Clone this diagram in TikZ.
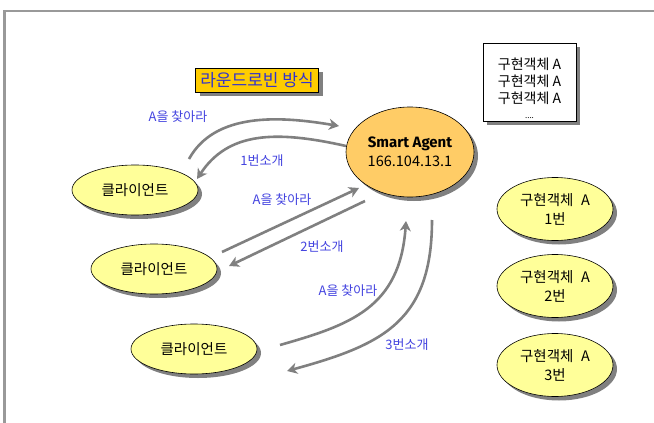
\documentclass[tikz,border=0pt]{standalone}
\usepackage{fontspec}
\setmainfont{Noto Sans CJK KR}
\newfontfamily\agentfont{Fira Sans}
\usetikzlibrary{shapes.geometric,shadows,arrows.meta}
\definecolor{ylw}{HTML}{FFFF99}
\definecolor{agentc}{HTML}{FFCC66}
\definecolor{goldc}{HTML}{FFCC00}
\definecolor{shd}{HTML}{808080}
\definecolor{arrgray}{HTML}{808080}
\definecolor{lblblue}{HTML}{4444E0}
\definecolor{titleblue}{HTML}{3333CC}
\definecolor{framec}{HTML}{999999}
\begin{document}
\begin{tikzpicture}[x=1pt,y=-1pt,
  shd/.style={drop shadow={shadow xshift=4pt, shadow yshift=-4pt, fill=shd, opacity=1}},
  ell/.style={ellipse, draw=black, line width=0.6pt, fill=ylw, inner sep=0pt, align=center, shd,
    font=\fontsize{14.5}{19}\selectfont},
  client/.style={ell, minimum width=126pt, minimum height=50pt},
  impl/.style={ell, minimum width=116pt, minimum height=63pt},
  arr/.style={draw=arrgray, line width=2.6pt, -{Stealth[length=10pt,width=11pt,inset=3pt]}},
  lbl/.style={text=lblblue, font=\fontsize{13}{14}\selectfont, inner sep=0pt}
]
\useasboundingbox (0,0) rectangle (654,423);
\fill[white] (0,0) rectangle (654,423);
\draw[framec, line width=2.5pt] (4.5,423) -- (4.5,11) -- (654,11);

% title
\node[draw=black, line width=0.6pt, fill=goldc, minimum width=123pt, minimum height=24pt, inner sep=0pt, shd,
  text=titleblue, font=\fontsize{17}{18}\selectfont] (title) at (257,80) {라운드로빈 방식};

% list box
\node[draw=black, line width=0.6pt, fill=white, minimum width=93pt, minimum height=78pt, inner sep=0pt, shd] (list) at (529.5,82) {};
\node[inner sep=0pt, align=center, font=\fontsize{14}{17}\selectfont] (listtxt) at (529.5,88)
  {구현객체 A\\구현객체 A\\구현객체 A\\[-2pt]{\fontsize{8}{9}\selectfont ....}};

% agent
\node[ell, fill=agentc, minimum width=128pt, minimum height=90pt] (sa) at (410,152)
  {\agentfont\bfseries\fontsize{15}{22}\selectfont Smart Agent\\166.104.13.1};

% clients
\node[client] (c1) at (135,190) {클라이언트};
\node[client] (c2) at (154,269) {클라이언트};
\node[client] (c3) at (194,349) {클라이언트};

% implementations
\node[impl] (i1) at (555,209) {구현객체\hspace{0.3em} A\\1번};
\node[impl] (i2) at (555,286) {구현객체\hspace{0.3em} A\\2번};
\node[impl] (i3) at (555,365) {구현객체\hspace{0.3em} A\\3번};

% arrow endpoints
\coordinate (a1s) at (189,159);
\coordinate (a1e) at (339,126);
\coordinate (a2s) at (346,146);
\coordinate (a2e) at (197,179);
\coordinate (a3s) at (222,252);
\coordinate (a3e) at (359,188);
\coordinate (a4s) at (365,201);
\coordinate (a4e) at (229,266);
\coordinate (a5s) at (280,345);
\coordinate (a5e) at (406,221);
\coordinate (a6s) at (432,220);
\coordinate (a6e) at (287,371);

\draw[arr] (a1s) .. controls (215,112) and (280,116) .. (a1e);
\draw[arr] (a2s) .. controls (275,130) and (228,132) .. (a2e);
\draw[arr] (a3s) -- (a3e);
\draw[arr] (a4s) -- (a4e);
\draw[arr] (a5s) .. controls (350,325) and (400,308) .. (a5e);
\draw[arr] (a6s) .. controls (432,322) and (382,345) .. (a6e);

% labels
\node[lbl] (l1) at (178,117) {A을 찾아라};
\node[lbl] (l2) at (262,161) {1번소개};
\node[lbl] (l3) at (282,200) {A을 찾아라};
\node[lbl] (l4) at (322,247) {2번소개};
\node[lbl] (l5) at (348,291) {A을 찾아라};
\node[lbl] (l6) at (407,345) {3번소개};
\end{tikzpicture}
\end{document}
